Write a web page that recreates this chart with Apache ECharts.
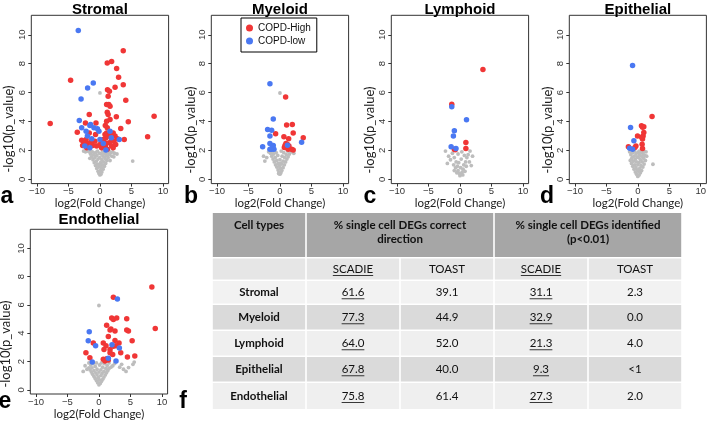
<!DOCTYPE html>
<html><head><meta charset="utf-8">
<script src="https://cdn.jsdelivr.net/npm/echarts@6/dist/echarts.min.js"></script>
<style>html,body{margin:0;padding:0;background:#fff}#c{width:709px;height:421px}</style>
</head><body><div id="c"></div>
<script>
// ---------------- DATA ----------------
const panelNames = ['Stromal', 'Myeloid', 'Lymphoid', 'Epithelial', 'Endothelial'];
const panelLetters = ['a', 'b', 'c', 'd', 'e'];
const xTicks = [-10, -5, 0, 5, 10];
const yTicks = [0, 2, 4, 6, 8, 10];
const legendNames = ['COPD-High', 'COPD-low'];
const xLabel = 'log2(Fold Change)';
const yLabel = '-log10(p_value)';

const stromalHigh = [[3.7,8.9],[1.85,8.16],[1.16,8.05],[2.65,7.66],[2.96,7.06],[-4.66,6.85],[3.7,6.55],[2.4,6.37],[1.2,6.2],[1.5,6.1],[1.3,5.75],[4.1,5.47],[1.06,5.17],[1.4,5.17],[1.6,5.06],[1.16,4.64],[2.6,4.32],[1.3,4.48],[8.6,4.37],[-7.9,3.86],[4.5,3.98],[-1.7,4.48],[1.6,4.14],[1.06,4.02],[-2.3,3.9],[-0.63,3.9],[-3.6,3.26],[0.85,3.72],[1.16,3.56],[3.3,3.52],[7.57,2.94],[3.86,2.76],[-2.6,2.64],[-2.0,2.48],[-1.16,2.34],[-2.75,2.34],[-0.53,2.3],[0,2.41],[0.53,2.76],[0.95,2.87],[1.3,3.0],[1.85,2.76],[2.2,2.64],[2.75,2.8],[1.48,2.53],[0.85,2.3],[1.85,2.3],[2.4,3.0],[0.26,2.18],[-2.2,2.76],[-0.8,2.64],[1.06,3.2],[0.8,3.1],[1.6,3.1],[2.1,3.2],[-1.7,3.2],[1.16,2.07],[2.1,2.18],[-2.1,2.18],[-0.7,3.1],[-2.4,2.5],[-1.4,2.6],[0.6,2.6],[1.0,2.5],[2.5,2.4],[-2.9,2.7]];
const stromalLow = [[-3.44,10.3],[-1.06,6.67],[-1.96,6.32],[-3.0,5.56],[-3.28,4.07],[-1.48,3.79],[-1.6,3.72],[-0.95,3.56],[-2.9,3.56],[-2.2,3.33],[-0.4,3.5],[-0.16,3.33],[-2.0,3.0],[-1.3,2.8],[0,2.76],[1.6,3.33],[1.8,2.87],[3.07,2.76],[0.53,2.48],[-2.4,2.3],[-1.6,2.18],[0.95,2.02]];
const stromalOther = [[0,5.98],[5.2,1.26],[0,0.3],[0.15,0.35],[-0.15,0.4],[0.3,0.5],[-0.3,0.55],[0.05,0.6],[0.5,0.7],[-0.5,0.75],[0.2,0.8],[-0.2,0.85],[0.7,0.9],[-0.7,0.95],[0.4,1.0],[-0.4,1.05],[0.9,1.1],[-0.9,1.15],[0.1,1.15],[0.6,1.2],[-0.6,1.25],[1.1,1.3],[-1.1,1.35],[0.3,1.35],[-0.3,1.4],[0.8,1.45],[-0.8,1.5],[1.3,1.5],[-1.3,1.55],[0.5,1.6],[-0.5,1.65],[1.0,1.65],[-1.0,1.7],[1.5,1.7],[-1.5,1.75],[0.2,1.75],[-0.1,1.8],[0.7,1.8],[-0.7,1.85],[1.2,1.85],[-1.2,1.9],[1.7,1.85],[-1.7,1.9],[2.0,1.9],[-1.95,1.95],[0.4,1.95],[-0.4,1.95],[0.95,1.95],[1.45,1.95],[-1.45,1.95],[2.3,1.8],[-2.3,1.9],[2.7,1.75],[-2.6,1.95],[1.9,1.6],[0.0,1.0],[-0.05,1.5],[1.6,1.3],[-1.6,1.45],[2.2,1.55]];

const myeloidHigh = [[0.9,5.7],[1.06,3.75],[1.96,3.79],[0.63,2.94],[1.38,2.8],[2.1,3.2],[3.7,2.87],[-0.69,3.15],[0.8,2.34],[1.06,2.18],[1.32,2.07],[1.85,2.07],[2.1,2.02],[0.95,2.48],[1.43,2.3],[0.7,2.2],[1.2,2.4]];
const myeloidLow = [[-1.59,6.62],[-1.06,4.18],[-1.96,3.45],[-1.32,3.4],[-1.59,2.99],[-2.75,2.25],[-1.59,2.48],[-1.06,2.34],[-1.32,2.07],[-0.95,2.07],[-1.59,2.07],[-1.2,2.2],[1.2,2.35],[3.44,2.57]];
const myeloidOther = [[0,5.97],[0,0.35],[0.15,0.45],[-0.15,0.5],[0.3,0.6],[-0.3,0.65],[0.1,0.75],[0.5,0.8],[-0.5,0.85],[-0.1,0.9],[0.7,1.0],[-0.7,1.0],[0.3,1.05],[-0.3,1.1],[0.9,1.2],[-0.9,1.2],[0.5,1.25],[-0.5,1.3],[1.1,1.4],[-1.1,1.4],[0.0,1.35],[0.75,1.5],[-0.75,1.5],[1.3,1.55],[-1.3,1.6],[0.35,1.6],[-0.35,1.65],[1.0,1.7],[-1.0,1.75],[1.5,1.75],[-1.5,1.8],[0.6,1.85],[-0.6,1.85],[1.8,1.9],[-1.8,1.9],[1.2,1.95],[-1.2,1.95],[0.2,1.95],[-2.4,1.26],[-2.1,1.5],[-2.6,1.6],[2.2,1.8],[0.1,1.1],[-0.2,0.4]];

const lymphoidHigh = [[3.65,7.6],[-1.3,5.2],[0.94,2.55],[0.94,2.13],[-0.89,2.08],[-0.75,2.05]];
const lymphoidLow = [[-1.3,5.02],[1.04,4.12],[-0.89,3.36],[-1.04,3.0],[-1.4,2.25],[-0.63,2.13]];
const lymphoidOther = [[-2.3,1.95],[1.6,1.95],[-1.8,1.6],[-1.5,1.35],[-2.0,1.1],[-1.2,1.8],[-0.9,1.5],[-0.6,1.2],[-0.4,0.9],[-0.3,0.6],[-0.1,0.4],[0.0,0.25],[0.2,0.35],[0.35,0.5],[0.5,0.7],[0.6,1.0],[0.9,1.2],[1.1,1.5],[1.3,1.7],[0.7,1.65],[0.2,1.4],[-0.2,1.15],[0.1,0.8],[-0.5,0.45],[0.45,0.3],[-0.7,0.8],[1.0,0.9],[1.5,1.2],[2.0,1.6],[-1.0,1.0],[0.3,1.9],[-0.3,1.75],[0.8,0.55],[-0.9,0.6],[1.8,0.95]];

const epithelialHigh = [[2.26,4.35],[0.58,3.7],[0.95,3.63],[0.75,3.6],[-0.05,3.0],[0.95,3.24],[0.84,3.0],[0.74,2.78],[-0.3,2.3],[-1.5,2.25],[-0.47,2.2],[0.68,2.43],[0.74,2.13],[0.6,2.9]];
const epithelialLow = [[-0.84,7.87],[-1.16,3.59],[-0.63,2.66],[-0.84,2.08],[-1.3,2.15]];
const epithelialOther = [[2.4,1.04],[0,0.2],[0.2,0.3],[-0.2,0.35],[0.4,0.45],[-0.4,0.5],[0.1,0.55],[-0.1,0.65],[0.6,0.6],[-0.6,0.7],[0.3,0.75],[-0.3,0.8],[0.8,0.85],[-0.8,0.9],[0.5,0.95],[-0.5,1.0],[0.0,1.0],[1.0,1.05],[-1.0,1.1],[0.2,1.15],[-0.2,1.2],[0.7,1.2],[-0.7,1.25],[1.2,1.3],[-1.2,1.3],[0.4,1.35],[-0.4,1.4],[0.9,1.45],[-0.9,1.5],[0.1,1.5],[-0.1,1.55],[0.6,1.6],[-0.6,1.6],[1.1,1.65],[-1.1,1.7],[0.3,1.7],[-0.3,1.75],[0.8,1.8],[-0.8,1.85],[0.0,1.85],[0.5,1.9],[-0.5,1.95],[1.3,1.9],[-1.3,1.9],[0.2,1.95],[1.0,1.95],[-1.0,1.4],[1.4,1.6]];

const endothelialHigh = [[8.4,7.27],[8.94,4.34],[2.29,6.54],[2.02,5.08],[2.29,4.97],[2.82,5.08],[4.41,5.03],[1.22,4.57],[1.76,4.23],[2.55,4.16],[4.41,4.23],[4.68,4.16],[1.49,3.76],[0.69,3.3],[2.55,3.49],[3.19,3.3],[5.27,3.46],[1.12,3.12],[2.71,3.12],[2.29,3.07],[1.76,2.84],[0.8,2.84],[-0.9,3.3],[-2.07,2.61],[-1.44,2.26],[3.46,2.61],[1.76,2.61],[5.69,2.38],[4.52,2.31],[0.69,2.15],[1.12,2.15],[1.49,2.1],[0.96,2.03],[2.18,2.49],[1.3,2.2],[1.9,4.3]];
const endothelialLow = [[2.93,6.42],[-1.54,4.11],[-1.7,3.46],[-0.53,3.12],[2.07,3.19],[3.24,2.96],[-1.06,1.96],[1.49,2.22],[2.71,2.03]];
const endothelialOther = [[0,5.96],[0,0.35],[0.2,0.45],[-0.2,0.5],[0.4,0.6],[-0.4,0.65],[0.1,0.7],[0.6,0.75],[-0.6,0.8],[-0.1,0.85],[0.8,0.9],[-0.8,0.95],[0.3,1.0],[-0.3,1.05],[1.0,1.05],[-1.0,1.1],[0.5,1.15],[-0.5,1.2],[1.2,1.2],[-1.2,1.25],[0.0,1.25],[0.8,1.3],[-0.8,1.35],[1.4,1.35],[-1.4,1.4],[0.3,1.4],[-0.3,1.45],[1.1,1.5],[-1.1,1.55],[1.6,1.5],[-1.6,1.55],[0.6,1.6],[-0.6,1.65],[1.9,1.6],[-1.9,1.45],[1.3,1.7],[-1.3,1.75],[0.1,1.75],[2.2,1.7],[-2.2,1.7],[0.9,1.85],[-0.9,1.85],[1.6,1.9],[-1.6,1.9],[2.5,1.85],[0.4,1.9],[-0.4,1.9],[3.3,1.6],[3.9,1.45],[4.3,1.3],[4.7,1.57],[5.4,1.8],[5.6,1.96],[3.6,1.8],[-2.5,1.3]];

// table
const tableHeaders = ['Cell types', '% single cell DEGs correct\ndirection', '% single cell DEGs identified\n(p<0.01)'];
const subHeaders = ['SCADIE', 'TOAST', 'SCADIE', 'TOAST'];
const cellTypes = ['Stromal', 'Myeloid', 'Lymphoid', 'Epithelial', 'Endothelial'];
const scadieDirection = ['61.6', '77.3', '64.0', '67.8', '75.8'];
const toastDirection = ['39.1', '44.9', '52.0', '40.0', '61.4'];
const scadieIdentified = ['31.1', '32.9', '21.3', '9.3', '27.3'];
const toastIdentified = ['2.3', '0.0', '4.0', '<1', '2.0'];

// ---------------- LAYOUT / STYLE ----------------
const highData = [stromalHigh, myeloidHigh, lymphoidHigh, epithelialHigh, endothelialHigh];
const lowData = [stromalLow, myeloidLow, lymphoidLow, epithelialLow, endothelialLow];
const otherData = [stromalOther, myeloidOther, lymphoidOther, epithelialOther, endothelialOther];

const plotW = 137.3, plotH = 168.3;
const gridPos = [
  {left: 31.3, top: 15.3}, {left: 211.3, top: 15.3}, {left: 391.3, top: 15.3},
  {left: 569.3, top: 15.3}, {left: 30.3, top: 229.3}
];
const titleY = [9.5, 9.5, 9.5, 9.5, 220];
const yLabelPos = [[9, 129], [191, 130], [370, 130], [548, 130], [6, 344]];
const letterPos = [[7, 197], [191, 197], [370, 197], [547, 197], [5, 402], [183, 402]];
const RED = '#f03636', BLUE = '#4a78f2', GRAY = '#bdbdbd';
const TICKFONT = 'Liberation Sans';
const LABFONT = 'Lato';

const grids = [], xAxes = [], yAxes = [], series = [], graphics = [];
const fmt = v => String(v).replace('-', '\u2212');

panelNames.forEach((nm, i) => {
  grids.push({left: gridPos[i].left, top: gridPos[i].top, width: plotW, height: plotH,
    show: true, borderColor: '#333', borderWidth: 1, backgroundColor: '#fff', containLabel: false});
  xAxes.push({gridIndex: i, type: 'value', min: -10.9, max: 10.9, position: 'bottom',
    splitLine: {show: false}, axisLine: {show: false, onZero: false},
    axisTick: {show: true, length: 3, inside: false, customValues: xTicks, lineStyle: {color: '#333'}},
    axisLabel: {customValues: xTicks, margin: 3, fontSize: 9.5, color: '#333', fontFamily: TICKFONT, formatter: fmt},
    name: xLabel, nameLocation: 'middle', nameGap: 14,
    nameTextStyle: {fontSize: 11.5, fontFamily: LABFONT, color: '#222'}});
  yAxes.push({gridIndex: i, type: 'value', min: -0.3, max: 11.35, position: 'left',
    splitLine: {show: false}, axisLine: {show: false, onZero: false},
    axisTick: {show: true, length: 3, inside: false, customValues: yTicks, lineStyle: {color: '#333'}},
    axisLabel: {customValues: yTicks, margin: 4, rotate: 90, fontSize: 9.5, color: '#333', fontFamily: TICKFONT}});
  series.push({type: 'scatter', name: 'other', xAxisIndex: i, yAxisIndex: i, data: otherData[i],
    symbolSize: 3.8, itemStyle: {color: GRAY, opacity: 1}, silent: true});
  series.push({type: 'scatter', name: legendNames[0], xAxisIndex: i, yAxisIndex: i, data: highData[i],
    symbolSize: 5.5, itemStyle: {color: RED, opacity: 1}, silent: true});
  series.push({type: 'scatter', name: legendNames[1], xAxisIndex: i, yAxisIndex: i, data: lowData[i],
    symbolSize: 5.5, itemStyle: {color: BLUE, opacity: 1}, silent: true});
  graphics.push({type: 'text', x: gridPos[i].left + plotW / 2, y: titleY[i], silent: true,
    style: {text: nm, fontSize: 15, fontWeight: 'bold', fontFamily: 'Liberation Sans', fill: '#000',
      align: 'center', verticalAlign: 'middle'}});
  graphics.push({type: 'text', x: yLabelPos[i][0], y: yLabelPos[i][1], rotation: Math.PI / 2, silent: true,
    style: {text: yLabel, fontSize: 13, fontFamily: LABFONT, fill: '#222', align: 'center', verticalAlign: 'middle'}});
});

['a', 'b', 'c', 'd', 'e', 'f'].forEach((l, i) => {
  graphics.push({type: 'text', x: letterPos[i][0], y: letterPos[i][1], silent: true,
    style: {text: l, fontSize: 23, fontWeight: 'bold', fontFamily: 'Liberation Sans', fill: '#000',
      align: 'center', verticalAlign: 'middle'}});
});

// ---------------- TABLE ----------------
const colB = [212, 306, 400, 494, 588, 682];
const rowTop = [213, 258.5, 281, 305, 331, 357, 383];
const rowBot = [257, 279.5, 303.5, 329.5, 355.5, 381.5, 409];
const rowFill = ['#a6a6a6', '#e6e6e6', '#f2f2f2', '#dadada', '#efefef', '#dadada', '#efefef'];
const GAP = 0.8;
const mctx = document.createElement('canvas').getContext('2d');
function tw(t, f) { mctx.font = f; return mctx.measureText(t).width; }
function cellText(txt, cx, cy, bold, underline, size) {
  const fs = size || 11.5;
  graphics.push({type: 'text', x: cx, y: cy, silent: true,
    style: {text: txt, fontSize: fs, fontWeight: bold ? 'bold' : 'normal', fontFamily: LABFONT, fill: '#111',
      align: 'center', verticalAlign: 'middle', lineHeight: 14}});
  if (underline) {
    const w = tw(txt, (bold ? 'bold ' : '') + fs + 'px ' + LABFONT);
    graphics.push({type: 'line', silent: true,
      shape: {x1: cx - w / 2, y1: cy + 6.5, x2: cx + w / 2, y2: cy + 6.5},
      style: {stroke: '#222', lineWidth: 0.9}});
  }
}
const headerSpans = [[0, 1], [1, 3], [3, 5]];
headerSpans.forEach((sp, k) => {
  graphics.push({type: 'rect', silent: true,
    shape: {x: colB[sp[0]] + GAP, y: rowTop[0], width: colB[sp[1]] - colB[sp[0]] - 2 * GAP, height: rowBot[0] - rowTop[0]},
    style: {fill: rowFill[0]}});
  const cx = (colB[sp[0]] + colB[sp[1]]) / 2;
  const lines = tableHeaders[k].split('\n').length;
  cellText(tableHeaders[k], cx, 225 + (lines - 1) * 7, true, false, 11.5);
});
const bodyRows = [['', ...subHeaders]];
cellTypes.forEach((c, r) => bodyRows.push([c, scadieDirection[r], toastDirection[r], scadieIdentified[r], toastIdentified[r]]));
bodyRows.forEach((row, r) => {
  const ri = r + 1;
  for (let c = 0; c < 5; c++) {
    graphics.push({type: 'rect', silent: true,
      shape: {x: colB[c] + GAP, y: rowTop[ri], width: colB[c + 1] - colB[c] - 2 * GAP, height: rowBot[ri] - rowTop[ri]},
      style: {fill: rowFill[ri]}});
    const cx = (colB[c] + colB[c + 1]) / 2;
    const cy = (rowTop[ri] + rowBot[ri]) / 2;
    if (row[c]) cellText(row[c], cx, cy, c === 0, c === 1 || c === 3, 11.5);
  }
});

const option = {
  animation: false,
  backgroundColor: '#fff',
  grid: grids, xAxis: xAxes, yAxis: yAxes, series: series,
  legend: {data: legendNames, left: 241, top: 18, orient: 'vertical', selectedMode: false,
    borderColor: '#000', borderWidth: 1, borderRadius: 0, backgroundColor: '#fff',
    padding: [4, 6, 5, 5], itemGap: 1, itemWidth: 7, itemHeight: 7, icon: 'circle',
    textStyle: {fontSize: 10, fontFamily: 'Liberation Sans', color: '#111', lineHeight: 12}},
  graphic: {elements: graphics}
};
const chart = echarts.init(document.getElementById('c'), null, {renderer: 'canvas'});
chart.setOption(option);
</script></body></html>
